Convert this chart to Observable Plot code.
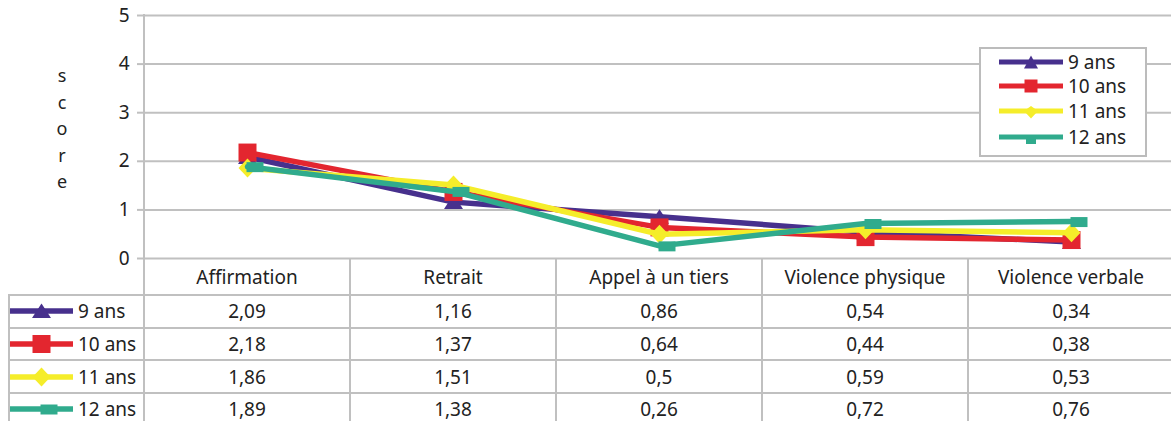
<!DOCTYPE html>
<html>
<head>
<meta charset="utf-8">
<script src="https://cdn.jsdelivr.net/npm/d3@7"></script>
<script src="https://cdn.jsdelivr.net/npm/@observablehq/plot@0.6"></script>
<style>
  body { margin: 0; background: #fff; }
  #root { position: relative; width: 1171px; height: 421px; overflow: hidden; background: #fff;
          font-family: "Noto Sans", sans-serif; color: #222; }
  #root svg.chart text { font-size: 19px; }
  .ln { position: absolute; background: #c0c0c0; }
  .cell { position: absolute; display: flex; align-items: center; justify-content: center; font-size: 19px; white-space: nowrap; }
</style>
</head>
<body>
<div id="root"></div>
<script>
// ---- data ----
const categories = ["Affirmation", "Retrait", "Appel à un tiers", "Violence physique", "Violence verbale"];
const seriesNames = ["9 ans", "10 ans", "11 ans", "12 ans"];
const values9 = [2.09, 1.16, 0.86, 0.54, 0.34];
const values10 = [2.18, 1.37, 0.64, 0.44, 0.38];
const values11 = [1.86, 1.51, 0.5, 0.59, 0.53];
const values12 = [1.89, 1.38, 0.26, 0.72, 0.76];
const yTicks = [0, 1, 2, 3, 4, 5];
const yLabel = "score";

// ---- styles ----
const seriesValues = [values9, values10, values11, values12];
const colors = ["#47308d", "#e3262f", "#f5ed2a", "#30ab8d"];
const symbols = [
  {draw(ctx) { ctx.moveTo(0, -7.5); ctx.lineTo(9.5, 7); ctx.lineTo(-9.5, 7); ctx.closePath(); }},
  {draw(ctx) { ctx.rect(-9, -9, 18, 18); }},
  {draw(ctx) { ctx.moveTo(0, -9.5); ctx.lineTo(9, 0); ctx.lineTo(0, 9.5); ctx.lineTo(-9, 0); ctx.closePath(); }},
  {draw(ctx) { ctx.rect(-1, -4.5, 17, 10); }}
];
const smallSymbols = [
  {draw(ctx) { ctx.moveTo(0, -6.5); ctx.lineTo(7, 6.5); ctx.lineTo(-7, 6.5); ctx.closePath(); }},
  {draw(ctx) { ctx.rect(-6.5, -6.5, 13, 13); }},
  {draw(ctx) { ctx.moveTo(0, -5); ctx.lineTo(7, 0); ctx.lineTo(0, 7.5); ctx.lineTo(-7, 0); ctx.closePath(); }},
  {draw(ctx) { ctx.rect(-5, 0, 10, 7); }}
];

const data = seriesNames.flatMap((s, i) =>
  categories.map((c, j) => ({series: s, category: c, value: seriesValues[i][j]})));

const fmt = v => String(v).replace(".", ",");

const marks = [
  Plot.gridY(yTicks, {stroke: "#c0c0c0", strokeOpacity: 1, strokeWidth: 2}),
  Plot.axisY(yTicks, {tickSize: 7, tickPadding: 8, stroke: "#c0c0c0", strokeWidth: 2, label: null, fill: "#222"})
];
seriesNames.forEach((s, i) => {
  const d = data.filter(r => r.series === s);
  marks.push(Plot.line(d, {x: "category", y: "value", stroke: colors[i], strokeWidth: 5.5, strokeLinejoin: "miter"}));
  marks.push(Plot.dot(d, {x: "category", y: "value", fill: colors[i], stroke: "none", symbol: symbols[i], r: 8}));
});

const fig = Plot.plot({
  className: "chart",
  width: 1171,
  height: 275,
  marginLeft: 144,
  marginRight: -3,
  marginTop: 15,
  marginBottom: 17,
  x: {type: "point", domain: categories, padding: 0.5, axis: null},
  y: {domain: [0, 5], axis: null},
  style: {fontFamily: "Noto Sans", fontSize: "19px", color: "#222", background: "transparent"},
  marks
});
fig.classList.add("chart");
fig.style.position = "absolute";
fig.style.left = "0px";
fig.style.top = "0px";

const root = document.getElementById("root");
root.append(fig);

const xs = fig.scale("x");
const ys = fig.scale("y");
const step = xs.apply(categories[1]) - xs.apply(categories[0]);
const edges = categories.map(c => xs.apply(c) - step / 2).concat([xs.apply(categories[categories.length - 1]) + step / 2]);
const tableTop = ys.apply(0);
const headerH = 37;
const rowH = 32.7;

function addLine(l, t, w, h) {
  const el = document.createElement("div");
  el.className = "ln";
  Object.assign(el.style, {left: l + "px", top: t + "px", width: w + "px", height: h + "px"});
  root.append(el);
}
function addCell(text, l, t, w, h, extra) {
  const el = document.createElement("div");
  el.className = "cell";
  el.textContent = text;
  Object.assign(el.style, {left: l + "px", top: t + "px", width: w + "px", height: h + "px"}, extra || {});
  root.append(el);
  return el;
}
function keySvg(i, w, h, sym, lineW) {
  const svg = d3.create("svg").attr("width", w).attr("height", h).style("position", "absolute").style("overflow", "visible");
  svg.append("line").attr("x1", 0).attr("x2", w).attr("y1", h / 2).attr("y2", h / 2)
    .attr("stroke", colors[i]).attr("stroke-width", lineW);
  const p = d3.path();
  sym[i].draw(p);
  svg.append("path").attr("d", p.toString()).attr("fill", colors[i]).attr("transform", `translate(${w / 2},${h / 2})`);
  return svg.node();
}

// axis line (vertical) through chart and table
addLine(edges[0] - 1, ys.apply(5) - 1, 2, 421);
// column separators in the table
edges.slice(1).forEach(e => addLine(e - 1, tableTop, 2, 421));
// horizontal row lines
for (let r = 0; r < seriesNames.length; r++) {
  addLine(8, tableTop + headerH + r * rowH - 1, 1171, 2);
}
// left border of row labels
addLine(8, tableTop + headerH - 1, 2, 421);

// header cells
categories.forEach((c, j) => addCell(c, edges[j], tableTop, step, headerH));
// value cells + row labels
seriesNames.forEach((s, i) => {
  const top = tableTop + headerH + i * rowH;
  seriesValues[i].forEach((v, j) => addCell(fmt(v), edges[j], top, step, rowH));
  const k = keySvg(i, 63, 10, symbols, 5.5);
  k.style.left = "10px";
  k.style.top = (top + rowH / 2 - 5) + "px";
  root.append(k);
  addCell(s, 78, top, 64, rowH, {justifyContent: "flex-start"});
});

// y label "score" stacked
const lab = document.createElement("div");
Object.assign(lab.style, {position: "absolute", left: "52px", top: "62px", width: "20px", textAlign: "center",
  fontSize: "18px", lineHeight: "26.5px"});
lab.innerHTML = yLabel.split("").join("<br>");
root.append(lab);

// legend box
const leg = document.createElement("div");
Object.assign(leg.style, {position: "absolute", left: "979px", top: "47px", width: "164px", height: "106px",
  border: "2px solid #bcbcbc", background: "#fff"});
root.append(leg);
const legRows = [13, 37, 62, 88];
seriesNames.forEach((s, i) => {
  const k = keySvg(i, 64, 10, smallSymbols, 5);
  k.style.left = "18px";
  k.style.top = (legRows[i] - 5) + "px";
  leg.append(k);
  const t = document.createElement("div");
  Object.assign(t.style, {position: "absolute", left: "87px", top: (legRows[i] - 13) + "px", height: "26px",
    lineHeight: "26px", fontSize: "19px", whiteSpace: "nowrap"});
  t.textContent = s;
  leg.append(t);
});
</script>
</body>
</html>
